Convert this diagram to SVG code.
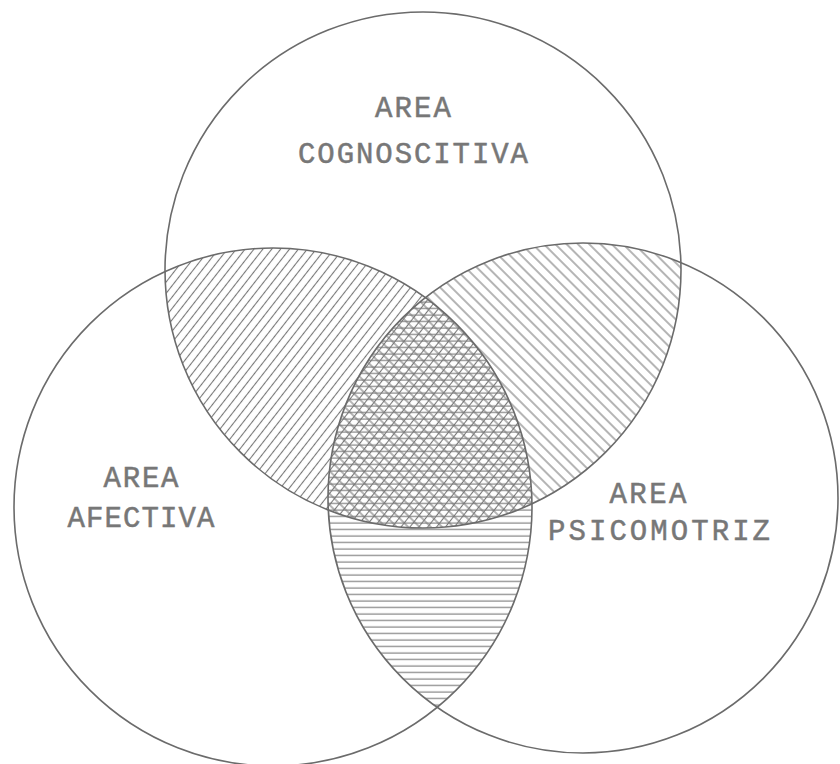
<svg xmlns="http://www.w3.org/2000/svg" width="840" height="764" viewBox="0 0 840 764">
<style>
.ring{fill:none;stroke:#6b6b6b;stroke-width:1.6}
.lbl{font-family:"Liberation Mono","DejaVu Sans Mono",monospace;font-size:29px;fill:#777;stroke:#777;stroke-width:0.5;text-anchor:middle}
.h{stroke:#777;stroke-width:1.1}
</style>
<defs>
<clipPath id="cT"><circle cx="423" cy="270" r="258"/></clipPath>
<clipPath id="cL"><circle cx="273" cy="507" r="259"/></clipPath>
<clipPath id="cR"><circle cx="583" cy="498" r="255"/></clipPath>
<pattern id="pSlash" patternUnits="userSpaceOnUse" width="7" height="7" patternTransform="rotate(-52)">
<line class="h" x1="0" y1="3.5" x2="7" y2="3.5"/>
</pattern>
<pattern id="pBack" patternUnits="userSpaceOnUse" width="8" height="8" patternTransform="rotate(45)">
<line class="h" x1="0" y1="4" x2="8" y2="4"/>
</pattern>
<pattern id="pHor" patternUnits="userSpaceOnUse" width="8" height="6.5">
<line class="h" x1="0" y1="3" x2="8" y2="3"/>
</pattern>
</defs>
<rect width="840" height="764" fill="#ffffff"/>
<g id="hatching">
<g clip-path="url(#cT)"><rect x="0" y="0" width="840" height="764" fill="url(#pSlash)" clip-path="url(#cL)"/></g>
<g clip-path="url(#cT)"><rect x="0" y="0" width="840" height="764" fill="url(#pBack)" clip-path="url(#cR)"/></g>
<g clip-path="url(#cL)"><rect x="0" y="0" width="840" height="764" fill="url(#pHor)" clip-path="url(#cR)"/></g>
</g>
<g id="area-cognoscitiva">
<circle class="ring" cx="423" cy="270" r="258"/>
<text class="lbl" x="413" y="117" textLength="76" lengthAdjust="spacing">AREA</text>
<text class="lbl" x="413" y="163" textLength="230" lengthAdjust="spacing">COGNOSCITIVA</text>
</g>
<g id="area-afectiva">
<circle class="ring" cx="273" cy="507" r="259"/>
<text class="lbl" x="141" y="487" textLength="75" lengthAdjust="spacing">AREA</text>
<text class="lbl" x="141" y="527" textLength="147" lengthAdjust="spacing">AFECTIVA</text>
</g>
<g id="area-psicomotriz">
<circle class="ring" cx="583" cy="498" r="255"/>
<text class="lbl" x="648" y="503" textLength="77" lengthAdjust="spacing">AREA</text>
<text class="lbl" x="659" y="540" textLength="222" lengthAdjust="spacing">PSICOMOTRIZ</text>
</g>
</svg>
